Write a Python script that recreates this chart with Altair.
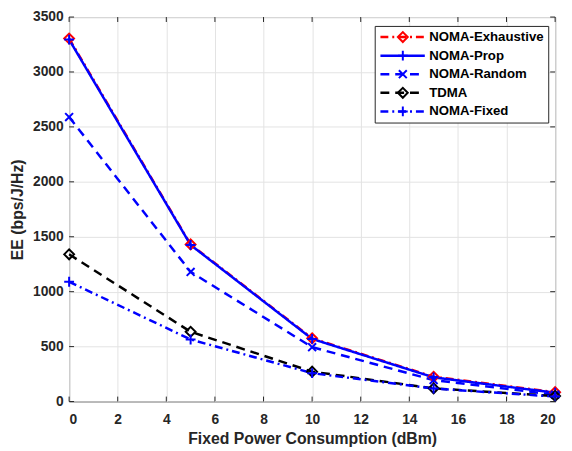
import altair as alt
import pandas as pd

x_vals = [0, 5, 10, 15, 20]
series_names = ["NOMA-Exhaustive", "NOMA-Prop", "NOMA-Random", "TDMA", "NOMA-Fixed"]
ee_exhaustive = [3305, 1430, 575, 225, 85]
ee_prop = [3295, 1425, 570, 220, 80]
ee_random = [2590, 1180, 495, 195, 62]
ee_tdma = [1340, 635, 272, 120, 50]
ee_fixed = [1090, 565, 258, 118, 45]
x_ticks = list(range(0, 21, 2))
y_ticks = list(range(0, 3501, 500))

colors = ["#FF0000", "#0000FF", "#0000FF", "#000000", "#0000FF"]
dashes = [[8, 4, 2, 4], [1, 0], [9, 6], [9, 6], [8, 4, 2, 4]]
PLUS = "M-1,0L1,0M0,-1L0,1"
XSH = "M-0.8,-0.8L0.8,0.8M-0.8,0.8L0.8,-0.8"
DIAM = "M-1,0L0,-1L1,0L0,1Z"
shapes = [DIAM, PLUS, XSH, DIAM, PLUS]

marker_names = [n + " " for n in series_names]

rows = []
for name, mname, vals in zip(series_names, marker_names,
                             [ee_exhaustive, ee_prop, ee_random, ee_tdma, ee_fixed]):
    for xv, yv in zip(x_vals, vals):
        rows.append({"series": name, "series_m": mname, "x": xv, "y": yv})
df = pd.DataFrame(rows)
df["order"] = df["series"].map({n: i for i, n in enumerate(series_names)})

xt_df = pd.DataFrame({"x": x_ticks})
yt_df = pd.DataFrame({"y": y_ticks})

FONT = "Liberation Sans"
AX = "#262626"
W, H = 493, 390
TK = 5

xscale = alt.Scale(domain=[0, 20], nice=False)
yscale = alt.Scale(domain=[0, 3500], nice=False)

x_main = alt.X("x:Q", scale=xscale, title="Fixed Power Consumption (dBm)",
               axis=alt.Axis(values=x_ticks, orient="bottom", ticks=False,
                             domain=False, labelPadding=11, grid=True, format="d",
                             titlePadding=5))
y_main = alt.Y("y:Q", scale=yscale, title="EE (bps/J/Hz)",
               axis=alt.Axis(values=y_ticks, orient="left", ticks=False,
                             domain=False, labelPadding=6, grid=True, format="d",
                             titlePadding=7))

leg_common = dict(orient="none", legendX=310, legendY=9, title=None,
                  clipHeight=14, rowPadding=4.85, padding=4.3,
                  labelFont=FONT, labelFontSize=13.4, labelFontWeight="bold",
                  labelColor="#000000", labelOffset=3)

line_leg = alt.Legend(symbolType="stroke", symbolSize=2025,
                      symbolStrokeWidth=2.5, strokeColor=AX,
                      fillColor="white", **leg_common)
pt_leg = alt.Legend(symbolSize=100, symbolStrokeWidth=2,
                    symbolOffset=17.5, labelExpr="''", **leg_common)

lines = alt.Chart(df).mark_line(strokeWidth=2.5).encode(
    x=x_main,
    y=y_main,
    detail="series:N",
    order="x:Q",
    color=alt.Color("series:N", scale=alt.Scale(domain=series_names, range=colors),
                    sort=series_names, legend=line_leg),
    strokeDash=alt.StrokeDash("series:N", scale=alt.Scale(domain=series_names, range=dashes),
                              sort=series_names, legend=line_leg),
)

pts = alt.Chart(df).mark_point(filled=False, strokeWidth=2, size=100, opacity=1).encode(
    x=alt.X("x:Q", scale=xscale),
    y=alt.Y("y:Q", scale=yscale),
    stroke=alt.Stroke("series_m:N", scale=alt.Scale(domain=marker_names, range=colors),
                      sort=marker_names, legend=pt_leg),
    shape=alt.Shape("series_m:N", scale=alt.Scale(domain=marker_names, range=shapes),
                    sort=marker_names, legend=pt_leg),
    order="order:Q",
)

tick_style = dict(color=AX, strokeWidth=1)
xt_bot = alt.Chart(xt_df).mark_rule(**tick_style).encode(
    x=alt.X("x:Q", scale=xscale), y=alt.value(H), y2=alt.value(H - TK))
xt_top = alt.Chart(xt_df).mark_rule(**tick_style).encode(
    x=alt.X("x:Q", scale=xscale), y=alt.value(0), y2=alt.value(TK))
yt_left = alt.Chart(yt_df).mark_rule(**tick_style).encode(
    y=alt.Y("y:Q", scale=yscale), x=alt.value(0), x2=alt.value(TK))
yt_right = alt.Chart(yt_df).mark_rule(**tick_style).encode(
    y=alt.Y("y:Q", scale=yscale), x=alt.value(W), x2=alt.value(W - TK))

chart = alt.layer(lines, pts, xt_bot, xt_top, yt_left, yt_right).properties(
    width=W, height=H,
    autosize=alt.AutoSizeParams(type="none"),
    padding={"left": 62, "top": 6, "right": 9, "bottom": 47},
).configure_view(
    stroke=AX, strokeWidth=1
).configure_axis(
    labelFont=FONT, labelFontSize=14, labelFontWeight="bold", labelColor=AX,
    titleFont=FONT, titleFontSize=16, titleFontWeight="bold", titleColor=AX,
    gridColor="#e3e3e3", gridWidth=1,
)

chart.save("out.html", embed_options={"renderer": "svg", "actions": False})
